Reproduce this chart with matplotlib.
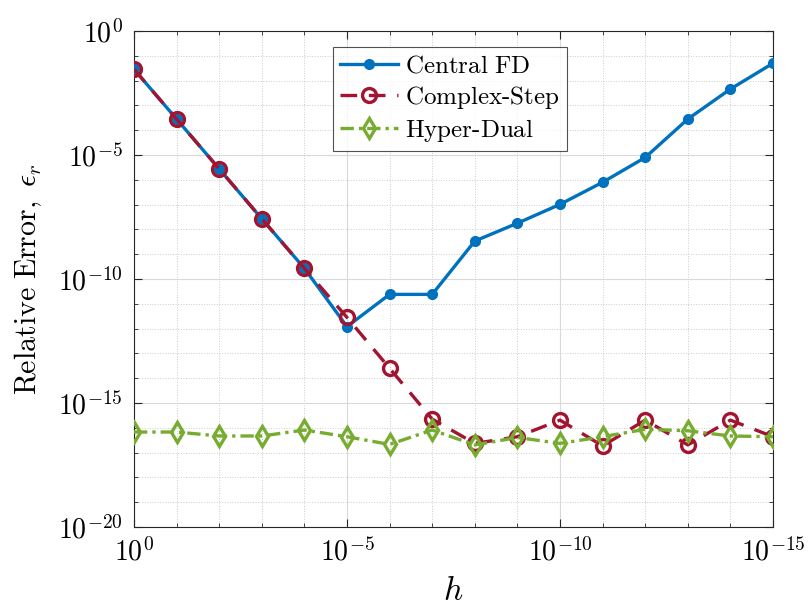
import numpy as np
import matplotlib
matplotlib.use("Agg")
import matplotlib.pyplot as plt
from matplotlib.ticker import NullFormatter

plt.rcParams['mathtext.fontset'] = 'cm'
plt.rcParams['font.family'] = 'serif'
plt.rcParams['font.serif'] = ['DejaVu Serif']

# step sizes and log10 of the relative errors
h = 10.0 ** -np.arange(0, 16)
fd_exp = [-1.54, -3.55, -5.56, -7.57, -9.57, -11.92, -10.62, -10.62,
          -8.47, -7.75, -6.99, -6.10, -5.10, -3.55, -2.34, -1.30]
cs_exp = [-1.54, -3.55, -5.56, -7.57, -9.57, -11.55, -13.60, -15.65,
          -16.63, -16.36, -15.69, -16.73, -15.69, -16.69, -15.69, -16.36]
hd_exp = [-16.17, -16.17, -16.33, -16.33, -16.09, -16.36, -16.67, -16.09,
          -16.69, -16.39, -16.63, -16.36, -16.06, -16.12, -16.33, -16.36]

fd = 10.0 ** np.array(fd_exp)
cs = 10.0 ** np.array(cs_exp)
hd = 10.0 ** np.array(hd_exp)

blue = '#0072BD'
red = '#A2142F'
green = '#77AC30'

fig = plt.figure(figsize=(8.08, 6.07), dpi=100)
ax = fig.add_axes([0.1658, 0.1318, 0.7909, 0.8171])

ax.plot(h, fd, '-o', color=blue, lw=2.4, ms=7, mfc=blue, mec=blue,
        label=r'$\mathrm{Central\ FD}$', zorder=3)
ax.plot(h, cs, '--o', color=red, lw=2.4, ms=10, mfc='none', mec=red, mew=2.4,
        dashes=(5, 3.5), label=r'$\mathrm{Complex\text{-}Step}$', zorder=4)
ax.plot(h, hd, '-.d', color=green, lw=2.4, ms=10, mfc='none', mec=green, mew=2.4,
        dashes=(4, 1.5, 1, 1.5), label=r'$\mathrm{Hyper\text{-}Dual}$', zorder=5)

ax.set_xscale('log')
ax.set_yscale('log')
ax.set_xlim(1e0, 1e-15)
ax.set_ylim(1e-20, 1e0)

ax.set_xticks([1e0, 1e-5, 1e-10, 1e-15])
ax.set_xticks(10.0 ** -np.arange(0, 16), minor=True)
ax.set_yticks([1e-20, 1e-15, 1e-10, 1e-5, 1e0])
ax.set_yticks(10.0 ** -np.arange(0, 21), minor=True)
ax.set_xticklabels([r'$10^{0}$', r'$10^{-5}$', r'$10^{-10}$', r'$10^{-15}$'])
ax.set_yticklabels([r'$10^{-20}$', r'$10^{-15}$', r'$10^{-10}$', r'$10^{-5}$', r'$10^{0}$'])
ax.xaxis.set_minor_formatter(NullFormatter())
ax.yaxis.set_minor_formatter(NullFormatter())

ax.tick_params(which='both', direction='in', top=True, right=True,
               color='#262626', labelsize=20, pad=8)
ax.tick_params(which='major', length=6, width=0.8)
ax.tick_params(which='minor', length=3, width=0.6)

ax.grid(True, which='major', color='#d9d9d9', lw=0.8, ls='-')
ax.grid(True, which='minor', color='#cccccc', lw=0.7, ls=':')
ax.set_axisbelow(True)
for s in ax.spines.values():
    s.set_color('#262626')
    s.set_linewidth(0.8)

ax.set_xlabel(r'$h$', fontsize=24, labelpad=6)
ax.set_ylabel(r'$\mathrm{Relative\ Error,}\ \epsilon_r$', fontsize=21.5, labelpad=10)

leg = ax.legend(loc='upper left', bbox_to_anchor=(0.311, 0.968), fontsize=18,
                frameon=True, fancybox=False, edgecolor='#262626',
                handlelength=2.3, borderpad=0.3, labelspacing=0.25,
                handletextpad=0.3, borderaxespad=0)
leg.get_frame().set_linewidth(0.8)

fig.savefig('out.png', dpi=100)
